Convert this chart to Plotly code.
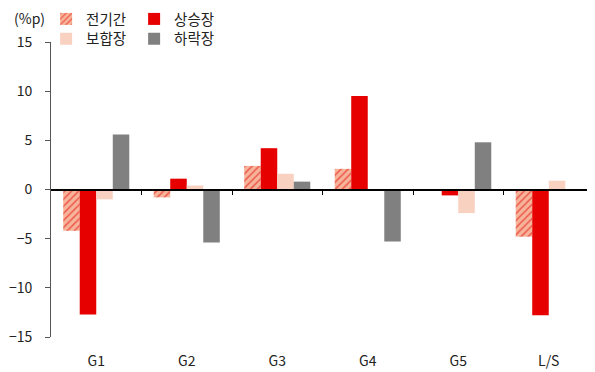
import plotly.graph_objects as go

# 카테고리 / 시리즈 값 (%p)
categories = ["G1", "G2", "G3", "G4", "G5", "L/S"]
jeongigan = [-4.2, -0.8, 2.4, 2.1, 0.0, -4.8]
sangseung = [-12.7, 1.1, 4.2, 9.5, -0.6, -12.8]
bohap = [-1.0, 0.4, 1.6, -0.1, -2.4, 0.9]
harak = [5.6, -5.4, 0.8, -5.3, 4.8, -0.05]

y_ticks = [15, 10, 5, 0, -5, -10, -15]

COLORS = {
    "red": "#e60000",
    "salmon": "#f6b49a",
    "peach": "#f9d1c0",
    "grey": "#808080",
}
FONT = "Noto Sans CJK KR, Malgun Gothic, sans-serif"

fig = go.Figure()

fig.add_trace(go.Bar(
    x=categories, y=jeongigan, name="전기간", legend="legend",
    marker={"color": COLORS["salmon"],
            "pattern": {"shape": "/", "fgcolor": COLORS["red"], "bgcolor": COLORS["salmon"],
                        "size": 5, "solidity": 0.3},
            "line": {"width": 0}},
))
fig.add_trace(go.Bar(
    x=categories, y=sangseung, name="상승장", legend="legend",
    marker={"color": COLORS["red"], "line": {"width": 0}},
))
fig.add_trace(go.Bar(
    x=categories, y=bohap, name="보합장", legend="legend2",
    marker={"color": COLORS["peach"], "line": {"width": 0}},
))
fig.add_trace(go.Bar(
    x=categories, y=harak, name="하락장", legend="legend2",
    marker={"color": COLORS["grey"], "line": {"width": 0}},
))

# 0선 위의 카테고리 경계 눈금용 보조 축
boundaries = [i + 0.5 for i in range(len(categories) - 1)]
fig.add_trace(go.Scatter(x=[0], y=[0], xaxis="x2", mode="markers",
                         marker={"opacity": 0}, showlegend=False, hoverinfo="skip"))

legend_common = {
    "orientation": "h",
    "font": {"size": 14.5, "color": "#222", "family": FONT},
    "bgcolor": "rgba(0,0,0,0)",
    "itemwidth": 30,
    "entrywidth": 43,
    "tracegroupgap": 0,
    "xanchor": "left",
    "yanchor": "middle",
}

# 페이지 body 여백(8px)을 감안한 크기
fig.update_layout(
    width=587,
    height=364,
    paper_bgcolor="white",
    plot_bgcolor="white",
    font={"family": FONT, "size": 14, "color": "#222"},
    margin={"l": 43, "r": 1, "t": 34, "b": 35, "autoexpand": False},
    barmode="group",
    bargap=0.27,
    bargroupgap=0,
    showlegend=True,
    legend={**legend_common, "x": -0.009, "y": 1.078},
    legend2={**legend_common, "x": -0.009, "y": 1.011},
    xaxis={
        "range": [-0.5, len(categories) - 0.5],
        "showline": False,
        "showgrid": False,
        "ticks": "",
        "tickfont": {"size": 14},
        "ticklabelstandoff": 14,
        "automargin": False,
        "fixedrange": True,
    },
    xaxis2={
        "overlaying": "x",
        "anchor": "free",
        "position": 0.5,
        "range": [-0.5, len(categories) - 0.5],
        "showline": True,
        "linecolor": "#000",
        "linewidth": 1.5,
        "ticks": "outside",
        "ticklen": 5,
        "tickcolor": "#000",
        "tickvals": boundaries,
        "showticklabels": False,
        "showgrid": False,
        "automargin": False,
    },
    yaxis={
        "range": [-15, 15],
        "tickvals": y_ticks,
        "showline": True,
        "linecolor": "#555",
        "linewidth": 1,
        "ticks": "outside",
        "ticklen": 5,
        "tickcolor": "#555",
        "showgrid": False,
        "zeroline": False,
        "tickfont": {"size": 14},
        "ticklabelstandoff": 10,
        "automargin": False,
    },
    annotations=[{
        "text": "(%p)", "xref": "paper", "yref": "paper", "x": -0.072, "y": 1.082,
        "xanchor": "left", "yanchor": "middle", "showarrow": False,
        "font": {"size": 14, "family": FONT},
    }],
)

fig.write_html("out.html")
